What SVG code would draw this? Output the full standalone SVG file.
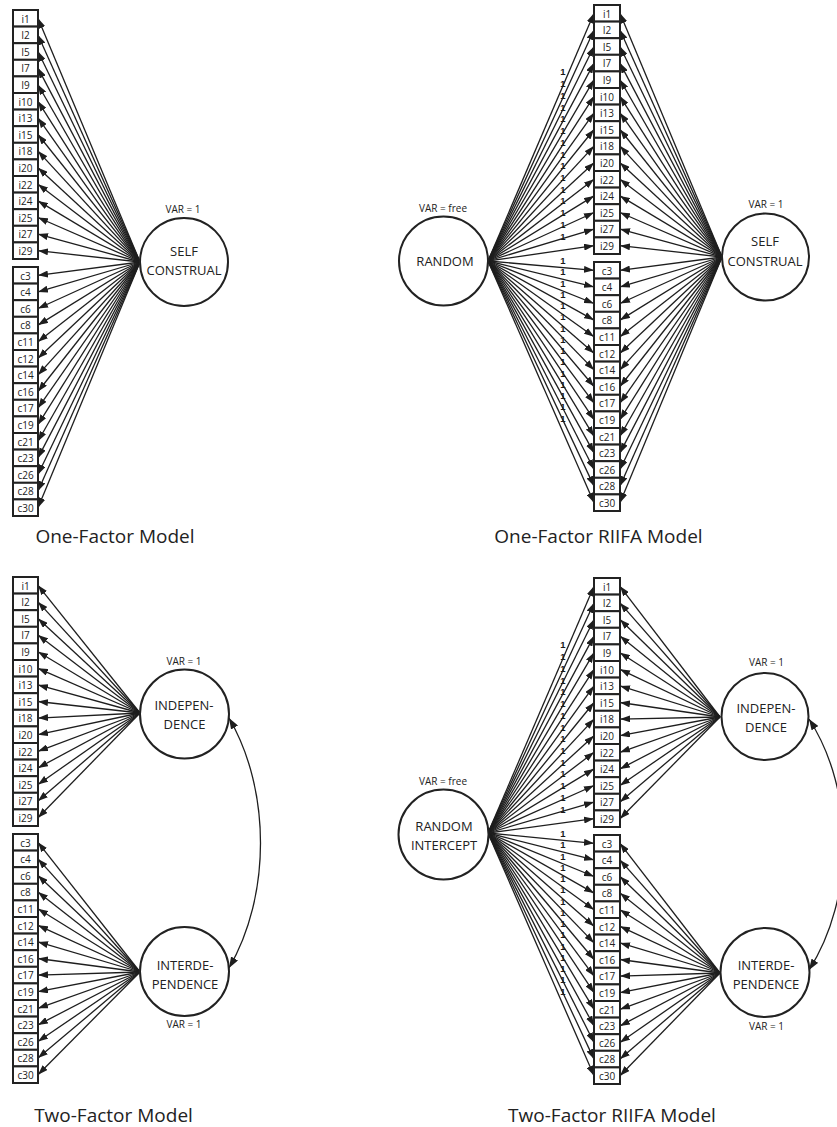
<svg xmlns="http://www.w3.org/2000/svg" width="837" height="1127" viewBox="0 0 837 1127">
<style>
.box{fill:#fff;stroke:#222;stroke-width:2}
.lv{fill:#fff;stroke:#222;stroke-width:2}
text{font-family:"Open Sans","Liberation Sans",sans-serif;fill:#222;text-anchor:middle}
.lab{font-size:10px}
.ft{font-size:13px}
.var{font-size:10px}
.cap{font-size:19px}
.one text{font-family:"Liberation Sans",Arial,sans-serif;font-size:9.5px;font-weight:bold;fill:#1a1a1a}
.ln line{stroke:#1e1e1e;stroke-width:1.3;marker-end:url(#ah)}
.cv{stroke:#1e1e1e;stroke-width:1.3;fill:none;marker-start:url(#ah2);marker-end:url(#ah2)}
</style>
<defs>
<marker id="ah" markerUnits="userSpaceOnUse" markerWidth="10" markerHeight="7" refX="10" refY="3.5" orient="auto"><path d="M0,0 L10,3.5 L0,7z" fill="#1e1e1e"/></marker>
<marker id="ah2" markerUnits="userSpaceOnUse" markerWidth="11" markerHeight="8" refX="11" refY="4" orient="auto-start-reverse"><path d="M0,0 L11,4 L0,8z" fill="#1e1e1e"/></marker>
</defs>

<g id="connectors">
<g id="p1-conn" class="ln" transform="translate(13,10)">
<line x1="127" y1="252" x2="25" y2="8.3"/><line x1="127" y1="252" x2="25" y2="24.9"/><line x1="127" y1="252" x2="25" y2="41.5"/><line x1="127" y1="252" x2="25" y2="58.1"/><line x1="127" y1="252" x2="25" y2="74.7"/><line x1="127" y1="252" x2="25" y2="91.3"/><line x1="127" y1="252" x2="25" y2="107.9"/><line x1="127" y1="252" x2="25" y2="124.5"/><line x1="127" y1="252" x2="25" y2="141.1"/><line x1="127" y1="252" x2="25" y2="157.7"/><line x1="127" y1="252" x2="25" y2="174.3"/><line x1="127" y1="252" x2="25" y2="190.9"/><line x1="127" y1="252" x2="25" y2="207.5"/><line x1="127" y1="252" x2="25" y2="224.1"/><line x1="127" y1="252" x2="25" y2="240.7"/>
<line x1="127" y1="252" x2="25" y2="265.3"/><line x1="127" y1="252" x2="25" y2="281.9"/><line x1="127" y1="252" x2="25" y2="298.5"/><line x1="127" y1="252" x2="25" y2="315.1"/><line x1="127" y1="252" x2="25" y2="331.7"/><line x1="127" y1="252" x2="25" y2="348.3"/><line x1="127" y1="252" x2="25" y2="364.9"/><line x1="127" y1="252" x2="25" y2="381.5"/><line x1="127" y1="252" x2="25" y2="398.1"/><line x1="127" y1="252" x2="25" y2="414.7"/><line x1="127" y1="252" x2="25" y2="431.3"/><line x1="127" y1="252" x2="25" y2="447.9"/><line x1="127" y1="252" x2="25" y2="464.5"/><line x1="127" y1="252" x2="25" y2="481.1"/><line x1="127" y1="252" x2="25" y2="497.7"/>
</g>
<g id="p2-conn" class="ln" transform="translate(594,5)">
<line x1="-106" y1="256" x2="0" y2="8.3"/><line x1="-106" y1="256" x2="0" y2="24.9"/><line x1="-106" y1="256" x2="0" y2="41.5"/><line x1="-106" y1="256" x2="0" y2="58.1"/><line x1="-106" y1="256" x2="0" y2="74.7"/><line x1="-106" y1="256" x2="0" y2="91.3"/><line x1="-106" y1="256" x2="0" y2="107.9"/><line x1="-106" y1="256" x2="0" y2="124.5"/><line x1="-106" y1="256" x2="0" y2="141.1"/><line x1="-106" y1="256" x2="0" y2="157.7"/><line x1="-106" y1="256" x2="0" y2="174.3"/><line x1="-106" y1="256" x2="0" y2="190.9"/><line x1="-106" y1="256" x2="0" y2="207.5"/><line x1="-106" y1="256" x2="0" y2="224.1"/><line x1="-106" y1="256" x2="0" y2="240.7"/>
<line x1="-106" y1="256" x2="0" y2="265.3"/><line x1="-106" y1="256" x2="0" y2="281.9"/><line x1="-106" y1="256" x2="0" y2="298.5"/><line x1="-106" y1="256" x2="0" y2="315.1"/><line x1="-106" y1="256" x2="0" y2="331.7"/><line x1="-106" y1="256" x2="0" y2="348.3"/><line x1="-106" y1="256" x2="0" y2="364.9"/><line x1="-106" y1="256" x2="0" y2="381.5"/><line x1="-106" y1="256" x2="0" y2="398.1"/><line x1="-106" y1="256" x2="0" y2="414.7"/><line x1="-106" y1="256" x2="0" y2="431.3"/><line x1="-106" y1="256" x2="0" y2="447.9"/><line x1="-106" y1="256" x2="0" y2="464.5"/><line x1="-106" y1="256" x2="0" y2="481.1"/><line x1="-106" y1="256" x2="0" y2="497.7"/>
<line x1="128" y1="252" x2="26" y2="8.3"/><line x1="128" y1="252" x2="26" y2="24.9"/><line x1="128" y1="252" x2="26" y2="41.5"/><line x1="128" y1="252" x2="26" y2="58.1"/><line x1="128" y1="252" x2="26" y2="74.7"/><line x1="128" y1="252" x2="26" y2="91.3"/><line x1="128" y1="252" x2="26" y2="107.9"/><line x1="128" y1="252" x2="26" y2="124.5"/><line x1="128" y1="252" x2="26" y2="141.1"/><line x1="128" y1="252" x2="26" y2="157.7"/><line x1="128" y1="252" x2="26" y2="174.3"/><line x1="128" y1="252" x2="26" y2="190.9"/><line x1="128" y1="252" x2="26" y2="207.5"/><line x1="128" y1="252" x2="26" y2="224.1"/><line x1="128" y1="252" x2="26" y2="240.7"/>
<line x1="128" y1="252" x2="26" y2="265.3"/><line x1="128" y1="252" x2="26" y2="281.9"/><line x1="128" y1="252" x2="26" y2="298.5"/><line x1="128" y1="252" x2="26" y2="315.1"/><line x1="128" y1="252" x2="26" y2="331.7"/><line x1="128" y1="252" x2="26" y2="348.3"/><line x1="128" y1="252" x2="26" y2="364.9"/><line x1="128" y1="252" x2="26" y2="381.5"/><line x1="128" y1="252" x2="26" y2="398.1"/><line x1="128" y1="252" x2="26" y2="414.7"/><line x1="128" y1="252" x2="26" y2="431.3"/><line x1="128" y1="252" x2="26" y2="447.9"/><line x1="128" y1="252" x2="26" y2="464.5"/><line x1="128" y1="252" x2="26" y2="481.1"/><line x1="128" y1="252" x2="26" y2="497.7"/>
<g class="one">
<text x="-31" y="70.3">1</text><text x="-31" y="82">1</text><text x="-31" y="93.7">1</text><text x="-31" y="105.5">1</text><text x="-31" y="117.2">1</text><text x="-31" y="129">1</text><text x="-31" y="140.7">1</text><text x="-31" y="152.5">1</text><text x="-31" y="164.2">1</text><text x="-31" y="176">1</text><text x="-31" y="187.7">1</text><text x="-31" y="199.4">1</text><text x="-31" y="211.2">1</text><text x="-31" y="222.9">1</text><text x="-31" y="234.7">1</text>
<text x="-31" y="259.1">1</text><text x="-31" y="270.3">1</text><text x="-31" y="281.6">1</text><text x="-31" y="292.8">1</text><text x="-31" y="304.1">1</text><text x="-31" y="315.3">1</text><text x="-31" y="326.5">1</text><text x="-31" y="337.8">1</text><text x="-31" y="349">1</text><text x="-31" y="360.3">1</text><text x="-31" y="371.5">1</text><text x="-31" y="382.8">1</text><text x="-31" y="394">1</text><text x="-31" y="405.3">1</text><text x="-31" y="416.5">1</text>
</g>
</g>
<g id="p3-conn" class="ln" transform="translate(13,577)">
<line x1="127" y1="136" x2="25" y2="8.3"/><line x1="127" y1="136" x2="25" y2="24.9"/><line x1="127" y1="136" x2="25" y2="41.5"/><line x1="127" y1="136" x2="25" y2="58.1"/><line x1="127" y1="136" x2="25" y2="74.7"/><line x1="127" y1="136" x2="25" y2="91.3"/><line x1="127" y1="136" x2="25" y2="107.9"/><line x1="127" y1="136" x2="25" y2="124.5"/><line x1="127" y1="136" x2="25" y2="141.1"/><line x1="127" y1="136" x2="25" y2="157.7"/><line x1="127" y1="136" x2="25" y2="174.3"/><line x1="127" y1="136" x2="25" y2="190.9"/><line x1="127" y1="136" x2="25" y2="207.5"/><line x1="127" y1="136" x2="25" y2="224.1"/><line x1="127" y1="136" x2="25" y2="240.7"/>
<line x1="127" y1="395" x2="25" y2="265.3"/><line x1="127" y1="395" x2="25" y2="281.9"/><line x1="127" y1="395" x2="25" y2="298.5"/><line x1="127" y1="395" x2="25" y2="315.1"/><line x1="127" y1="395" x2="25" y2="331.7"/><line x1="127" y1="395" x2="25" y2="348.3"/><line x1="127" y1="395" x2="25" y2="364.9"/><line x1="127" y1="395" x2="25" y2="381.5"/><line x1="127" y1="395" x2="25" y2="398.1"/><line x1="127" y1="395" x2="25" y2="414.7"/><line x1="127" y1="395" x2="25" y2="431.3"/><line x1="127" y1="395" x2="25" y2="447.9"/><line x1="127" y1="395" x2="25" y2="464.5"/><line x1="127" y1="395" x2="25" y2="481.1"/><line x1="127" y1="395" x2="25" y2="497.7"/>
</g>
<g id="p4-conn" class="ln" transform="translate(594,578)">
<line x1="-106" y1="255" x2="0" y2="8.3"/><line x1="-106" y1="255" x2="0" y2="24.9"/><line x1="-106" y1="255" x2="0" y2="41.5"/><line x1="-106" y1="255" x2="0" y2="58.1"/><line x1="-106" y1="255" x2="0" y2="74.7"/><line x1="-106" y1="255" x2="0" y2="91.3"/><line x1="-106" y1="255" x2="0" y2="107.9"/><line x1="-106" y1="255" x2="0" y2="124.5"/><line x1="-106" y1="255" x2="0" y2="141.1"/><line x1="-106" y1="255" x2="0" y2="157.7"/><line x1="-106" y1="255" x2="0" y2="174.3"/><line x1="-106" y1="255" x2="0" y2="190.9"/><line x1="-106" y1="255" x2="0" y2="207.5"/><line x1="-106" y1="255" x2="0" y2="224.1"/><line x1="-106" y1="255" x2="0" y2="240.7"/>
<line x1="-106" y1="255" x2="0" y2="265.3"/><line x1="-106" y1="255" x2="0" y2="281.9"/><line x1="-106" y1="255" x2="0" y2="298.5"/><line x1="-106" y1="255" x2="0" y2="315.1"/><line x1="-106" y1="255" x2="0" y2="331.7"/><line x1="-106" y1="255" x2="0" y2="348.3"/><line x1="-106" y1="255" x2="0" y2="364.9"/><line x1="-106" y1="255" x2="0" y2="381.5"/><line x1="-106" y1="255" x2="0" y2="398.1"/><line x1="-106" y1="255" x2="0" y2="414.7"/><line x1="-106" y1="255" x2="0" y2="431.3"/><line x1="-106" y1="255" x2="0" y2="447.9"/><line x1="-106" y1="255" x2="0" y2="464.5"/><line x1="-106" y1="255" x2="0" y2="481.1"/><line x1="-106" y1="255" x2="0" y2="497.7"/>
<line x1="126" y1="139" x2="26" y2="8.3"/><line x1="126" y1="139" x2="26" y2="24.9"/><line x1="126" y1="139" x2="26" y2="41.5"/><line x1="126" y1="139" x2="26" y2="58.1"/><line x1="126" y1="139" x2="26" y2="74.7"/><line x1="126" y1="139" x2="26" y2="91.3"/><line x1="126" y1="139" x2="26" y2="107.9"/><line x1="126" y1="139" x2="26" y2="124.5"/><line x1="126" y1="139" x2="26" y2="141.1"/><line x1="126" y1="139" x2="26" y2="157.7"/><line x1="126" y1="139" x2="26" y2="174.3"/><line x1="126" y1="139" x2="26" y2="190.9"/><line x1="126" y1="139" x2="26" y2="207.5"/><line x1="126" y1="139" x2="26" y2="224.1"/><line x1="126" y1="139" x2="26" y2="240.7"/>
<line x1="126" y1="395" x2="26" y2="265.3"/><line x1="126" y1="395" x2="26" y2="281.9"/><line x1="126" y1="395" x2="26" y2="298.5"/><line x1="126" y1="395" x2="26" y2="315.1"/><line x1="126" y1="395" x2="26" y2="331.7"/><line x1="126" y1="395" x2="26" y2="348.3"/><line x1="126" y1="395" x2="26" y2="364.9"/><line x1="126" y1="395" x2="26" y2="381.5"/><line x1="126" y1="395" x2="26" y2="398.1"/><line x1="126" y1="395" x2="26" y2="414.7"/><line x1="126" y1="395" x2="26" y2="431.3"/><line x1="126" y1="395" x2="26" y2="447.9"/><line x1="126" y1="395" x2="26" y2="464.5"/><line x1="126" y1="395" x2="26" y2="481.1"/><line x1="126" y1="395" x2="26" y2="497.7"/>
<g class="one">
<text x="-31" y="70.3">1</text><text x="-31" y="82">1</text><text x="-31" y="93.7">1</text><text x="-31" y="105.5">1</text><text x="-31" y="117.2">1</text><text x="-31" y="129">1</text><text x="-31" y="140.7">1</text><text x="-31" y="152.5">1</text><text x="-31" y="164.2">1</text><text x="-31" y="176">1</text><text x="-31" y="187.7">1</text><text x="-31" y="199.4">1</text><text x="-31" y="211.2">1</text><text x="-31" y="222.9">1</text><text x="-31" y="234.7">1</text>
<text x="-31" y="259.1">1</text><text x="-31" y="270.3">1</text><text x="-31" y="281.6">1</text><text x="-31" y="292.8">1</text><text x="-31" y="304.1">1</text><text x="-31" y="315.3">1</text><text x="-31" y="326.5">1</text><text x="-31" y="337.8">1</text><text x="-31" y="349">1</text><text x="-31" y="360.3">1</text><text x="-31" y="371.5">1</text><text x="-31" y="382.8">1</text><text x="-31" y="394">1</text><text x="-31" y="405.3">1</text><text x="-31" y="416.5">1</text>
</g>
</g>
<path id="p3-cov" class="cv" d="M229,718 C271,790 271,896 229,968"/>
<path id="p4-cov" class="cv" d="M809,719 C855,790 855,898 809,970"/>
</g>

<g id="p1-items" transform="translate(13,10)">
<g id="p1-i1"><rect class="box" x="0" y="0" width="25" height="16.6"/><text class="lab" x="12.5" y="12.5">i1</text></g>
<g id="p1-i2"><rect class="box" x="0" y="16.6" width="25" height="16.6"/><text class="lab" x="12.5" y="29.1">I2</text></g>
<g id="p1-i5"><rect class="box" x="0" y="33.2" width="25" height="16.6"/><text class="lab" x="12.5" y="45.7">I5</text></g>
<g id="p1-i7"><rect class="box" x="0" y="49.8" width="25" height="16.6"/><text class="lab" x="12.5" y="62.3">I7</text></g>
<g id="p1-i9"><rect class="box" x="0" y="66.4" width="25" height="16.6"/><text class="lab" x="12.5" y="78.9">I9</text></g>
<g id="p1-i10"><rect class="box" x="0" y="83" width="25" height="16.6"/><text class="lab" x="12.5" y="95.5">i10</text></g>
<g id="p1-i13"><rect class="box" x="0" y="99.6" width="25" height="16.6"/><text class="lab" x="12.5" y="112.1">i13</text></g>
<g id="p1-i15"><rect class="box" x="0" y="116.2" width="25" height="16.6"/><text class="lab" x="12.5" y="128.7">i15</text></g>
<g id="p1-i18"><rect class="box" x="0" y="132.8" width="25" height="16.6"/><text class="lab" x="12.5" y="145.3">i18</text></g>
<g id="p1-i20"><rect class="box" x="0" y="149.4" width="25" height="16.6"/><text class="lab" x="12.5" y="161.9">i20</text></g>
<g id="p1-i22"><rect class="box" x="0" y="166" width="25" height="16.6"/><text class="lab" x="12.5" y="178.5">i22</text></g>
<g id="p1-i24"><rect class="box" x="0" y="182.6" width="25" height="16.6"/><text class="lab" x="12.5" y="195.1">i24</text></g>
<g id="p1-i25"><rect class="box" x="0" y="199.2" width="25" height="16.6"/><text class="lab" x="12.5" y="211.7">i25</text></g>
<g id="p1-i27"><rect class="box" x="0" y="215.8" width="25" height="16.6"/><text class="lab" x="12.5" y="228.3">i27</text></g>
<g id="p1-i29"><rect class="box" x="0" y="232.4" width="25" height="16.6"/><text class="lab" x="12.5" y="244.9">i29</text></g>
<g id="p1-c3"><rect class="box" x="0" y="257" width="25" height="16.6"/><text class="lab" x="12.5" y="269.5">c3</text></g>
<g id="p1-c4"><rect class="box" x="0" y="273.6" width="25" height="16.6"/><text class="lab" x="12.5" y="286.1">c4</text></g>
<g id="p1-c6"><rect class="box" x="0" y="290.2" width="25" height="16.6"/><text class="lab" x="12.5" y="302.7">c6</text></g>
<g id="p1-c8"><rect class="box" x="0" y="306.8" width="25" height="16.6"/><text class="lab" x="12.5" y="319.3">c8</text></g>
<g id="p1-c11"><rect class="box" x="0" y="323.4" width="25" height="16.6"/><text class="lab" x="12.5" y="335.9">c11</text></g>
<g id="p1-c12"><rect class="box" x="0" y="340" width="25" height="16.6"/><text class="lab" x="12.5" y="352.5">c12</text></g>
<g id="p1-c14"><rect class="box" x="0" y="356.6" width="25" height="16.6"/><text class="lab" x="12.5" y="369.1">c14</text></g>
<g id="p1-c16"><rect class="box" x="0" y="373.2" width="25" height="16.6"/><text class="lab" x="12.5" y="385.7">c16</text></g>
<g id="p1-c17"><rect class="box" x="0" y="389.8" width="25" height="16.6"/><text class="lab" x="12.5" y="402.3">c17</text></g>
<g id="p1-c19"><rect class="box" x="0" y="406.4" width="25" height="16.6"/><text class="lab" x="12.5" y="418.9">c19</text></g>
<g id="p1-c21"><rect class="box" x="0" y="423" width="25" height="16.6"/><text class="lab" x="12.5" y="435.5">c21</text></g>
<g id="p1-c23"><rect class="box" x="0" y="439.6" width="25" height="16.6"/><text class="lab" x="12.5" y="452.1">c23</text></g>
<g id="p1-c26"><rect class="box" x="0" y="456.2" width="25" height="16.6"/><text class="lab" x="12.5" y="468.7">c26</text></g>
<g id="p1-c28"><rect class="box" x="0" y="472.8" width="25" height="16.6"/><text class="lab" x="12.5" y="485.3">c28</text></g>
<g id="p1-c30"><rect class="box" x="0" y="489.4" width="25" height="16.6"/><text class="lab" x="12.5" y="501.9">c30</text></g>
</g>

<g id="p2-items" transform="translate(594,5)">
<g id="p2-i1"><rect class="box" x="0" y="0" width="26" height="16.6"/><text class="lab" x="13" y="12.5">i1</text></g>
<g id="p2-i2"><rect class="box" x="0" y="16.6" width="26" height="16.6"/><text class="lab" x="13" y="29.1">I2</text></g>
<g id="p2-i5"><rect class="box" x="0" y="33.2" width="26" height="16.6"/><text class="lab" x="13" y="45.7">I5</text></g>
<g id="p2-i7"><rect class="box" x="0" y="49.8" width="26" height="16.6"/><text class="lab" x="13" y="62.3">I7</text></g>
<g id="p2-i9"><rect class="box" x="0" y="66.4" width="26" height="16.6"/><text class="lab" x="13" y="78.9">I9</text></g>
<g id="p2-i10"><rect class="box" x="0" y="83" width="26" height="16.6"/><text class="lab" x="13" y="95.5">i10</text></g>
<g id="p2-i13"><rect class="box" x="0" y="99.6" width="26" height="16.6"/><text class="lab" x="13" y="112.1">i13</text></g>
<g id="p2-i15"><rect class="box" x="0" y="116.2" width="26" height="16.6"/><text class="lab" x="13" y="128.7">i15</text></g>
<g id="p2-i18"><rect class="box" x="0" y="132.8" width="26" height="16.6"/><text class="lab" x="13" y="145.3">i18</text></g>
<g id="p2-i20"><rect class="box" x="0" y="149.4" width="26" height="16.6"/><text class="lab" x="13" y="161.9">i20</text></g>
<g id="p2-i22"><rect class="box" x="0" y="166" width="26" height="16.6"/><text class="lab" x="13" y="178.5">i22</text></g>
<g id="p2-i24"><rect class="box" x="0" y="182.6" width="26" height="16.6"/><text class="lab" x="13" y="195.1">i24</text></g>
<g id="p2-i25"><rect class="box" x="0" y="199.2" width="26" height="16.6"/><text class="lab" x="13" y="211.7">i25</text></g>
<g id="p2-i27"><rect class="box" x="0" y="215.8" width="26" height="16.6"/><text class="lab" x="13" y="228.3">i27</text></g>
<g id="p2-i29"><rect class="box" x="0" y="232.4" width="26" height="16.6"/><text class="lab" x="13" y="244.9">i29</text></g>
<g id="p2-c3"><rect class="box" x="0" y="257" width="26" height="16.6"/><text class="lab" x="13" y="269.5">c3</text></g>
<g id="p2-c4"><rect class="box" x="0" y="273.6" width="26" height="16.6"/><text class="lab" x="13" y="286.1">c4</text></g>
<g id="p2-c6"><rect class="box" x="0" y="290.2" width="26" height="16.6"/><text class="lab" x="13" y="302.7">c6</text></g>
<g id="p2-c8"><rect class="box" x="0" y="306.8" width="26" height="16.6"/><text class="lab" x="13" y="319.3">c8</text></g>
<g id="p2-c11"><rect class="box" x="0" y="323.4" width="26" height="16.6"/><text class="lab" x="13" y="335.9">c11</text></g>
<g id="p2-c12"><rect class="box" x="0" y="340" width="26" height="16.6"/><text class="lab" x="13" y="352.5">c12</text></g>
<g id="p2-c14"><rect class="box" x="0" y="356.6" width="26" height="16.6"/><text class="lab" x="13" y="369.1">c14</text></g>
<g id="p2-c16"><rect class="box" x="0" y="373.2" width="26" height="16.6"/><text class="lab" x="13" y="385.7">c16</text></g>
<g id="p2-c17"><rect class="box" x="0" y="389.8" width="26" height="16.6"/><text class="lab" x="13" y="402.3">c17</text></g>
<g id="p2-c19"><rect class="box" x="0" y="406.4" width="26" height="16.6"/><text class="lab" x="13" y="418.9">c19</text></g>
<g id="p2-c21"><rect class="box" x="0" y="423" width="26" height="16.6"/><text class="lab" x="13" y="435.5">c21</text></g>
<g id="p2-c23"><rect class="box" x="0" y="439.6" width="26" height="16.6"/><text class="lab" x="13" y="452.1">c23</text></g>
<g id="p2-c26"><rect class="box" x="0" y="456.2" width="26" height="16.6"/><text class="lab" x="13" y="468.7">c26</text></g>
<g id="p2-c28"><rect class="box" x="0" y="472.8" width="26" height="16.6"/><text class="lab" x="13" y="485.3">c28</text></g>
<g id="p2-c30"><rect class="box" x="0" y="489.4" width="26" height="16.6"/><text class="lab" x="13" y="501.9">c30</text></g>
</g>

<g id="p3-items" transform="translate(13,577)">
<g id="p3-i1"><rect class="box" x="0" y="0" width="25" height="16.6"/><text class="lab" x="12.5" y="12.5">i1</text></g>
<g id="p3-i2"><rect class="box" x="0" y="16.6" width="25" height="16.6"/><text class="lab" x="12.5" y="29.1">I2</text></g>
<g id="p3-i5"><rect class="box" x="0" y="33.2" width="25" height="16.6"/><text class="lab" x="12.5" y="45.7">I5</text></g>
<g id="p3-i7"><rect class="box" x="0" y="49.8" width="25" height="16.6"/><text class="lab" x="12.5" y="62.3">I7</text></g>
<g id="p3-i9"><rect class="box" x="0" y="66.4" width="25" height="16.6"/><text class="lab" x="12.5" y="78.9">I9</text></g>
<g id="p3-i10"><rect class="box" x="0" y="83" width="25" height="16.6"/><text class="lab" x="12.5" y="95.5">i10</text></g>
<g id="p3-i13"><rect class="box" x="0" y="99.6" width="25" height="16.6"/><text class="lab" x="12.5" y="112.1">i13</text></g>
<g id="p3-i15"><rect class="box" x="0" y="116.2" width="25" height="16.6"/><text class="lab" x="12.5" y="128.7">i15</text></g>
<g id="p3-i18"><rect class="box" x="0" y="132.8" width="25" height="16.6"/><text class="lab" x="12.5" y="145.3">i18</text></g>
<g id="p3-i20"><rect class="box" x="0" y="149.4" width="25" height="16.6"/><text class="lab" x="12.5" y="161.9">i20</text></g>
<g id="p3-i22"><rect class="box" x="0" y="166" width="25" height="16.6"/><text class="lab" x="12.5" y="178.5">i22</text></g>
<g id="p3-i24"><rect class="box" x="0" y="182.6" width="25" height="16.6"/><text class="lab" x="12.5" y="195.1">i24</text></g>
<g id="p3-i25"><rect class="box" x="0" y="199.2" width="25" height="16.6"/><text class="lab" x="12.5" y="211.7">i25</text></g>
<g id="p3-i27"><rect class="box" x="0" y="215.8" width="25" height="16.6"/><text class="lab" x="12.5" y="228.3">i27</text></g>
<g id="p3-i29"><rect class="box" x="0" y="232.4" width="25" height="16.6"/><text class="lab" x="12.5" y="244.9">i29</text></g>
<g id="p3-c3"><rect class="box" x="0" y="257" width="25" height="16.6"/><text class="lab" x="12.5" y="269.5">c3</text></g>
<g id="p3-c4"><rect class="box" x="0" y="273.6" width="25" height="16.6"/><text class="lab" x="12.5" y="286.1">c4</text></g>
<g id="p3-c6"><rect class="box" x="0" y="290.2" width="25" height="16.6"/><text class="lab" x="12.5" y="302.7">c6</text></g>
<g id="p3-c8"><rect class="box" x="0" y="306.8" width="25" height="16.6"/><text class="lab" x="12.5" y="319.3">c8</text></g>
<g id="p3-c11"><rect class="box" x="0" y="323.4" width="25" height="16.6"/><text class="lab" x="12.5" y="335.9">c11</text></g>
<g id="p3-c12"><rect class="box" x="0" y="340" width="25" height="16.6"/><text class="lab" x="12.5" y="352.5">c12</text></g>
<g id="p3-c14"><rect class="box" x="0" y="356.6" width="25" height="16.6"/><text class="lab" x="12.5" y="369.1">c14</text></g>
<g id="p3-c16"><rect class="box" x="0" y="373.2" width="25" height="16.6"/><text class="lab" x="12.5" y="385.7">c16</text></g>
<g id="p3-c17"><rect class="box" x="0" y="389.8" width="25" height="16.6"/><text class="lab" x="12.5" y="402.3">c17</text></g>
<g id="p3-c19"><rect class="box" x="0" y="406.4" width="25" height="16.6"/><text class="lab" x="12.5" y="418.9">c19</text></g>
<g id="p3-c21"><rect class="box" x="0" y="423" width="25" height="16.6"/><text class="lab" x="12.5" y="435.5">c21</text></g>
<g id="p3-c23"><rect class="box" x="0" y="439.6" width="25" height="16.6"/><text class="lab" x="12.5" y="452.1">c23</text></g>
<g id="p3-c26"><rect class="box" x="0" y="456.2" width="25" height="16.6"/><text class="lab" x="12.5" y="468.7">c26</text></g>
<g id="p3-c28"><rect class="box" x="0" y="472.8" width="25" height="16.6"/><text class="lab" x="12.5" y="485.3">c28</text></g>
<g id="p3-c30"><rect class="box" x="0" y="489.4" width="25" height="16.6"/><text class="lab" x="12.5" y="501.9">c30</text></g>
</g>

<g id="p4-items" transform="translate(594,578)">
<g id="p4-i1"><rect class="box" x="0" y="0" width="26" height="16.6"/><text class="lab" x="13" y="12.5">i1</text></g>
<g id="p4-i2"><rect class="box" x="0" y="16.6" width="26" height="16.6"/><text class="lab" x="13" y="29.1">I2</text></g>
<g id="p4-i5"><rect class="box" x="0" y="33.2" width="26" height="16.6"/><text class="lab" x="13" y="45.7">I5</text></g>
<g id="p4-i7"><rect class="box" x="0" y="49.8" width="26" height="16.6"/><text class="lab" x="13" y="62.3">I7</text></g>
<g id="p4-i9"><rect class="box" x="0" y="66.4" width="26" height="16.6"/><text class="lab" x="13" y="78.9">I9</text></g>
<g id="p4-i10"><rect class="box" x="0" y="83" width="26" height="16.6"/><text class="lab" x="13" y="95.5">i10</text></g>
<g id="p4-i13"><rect class="box" x="0" y="99.6" width="26" height="16.6"/><text class="lab" x="13" y="112.1">i13</text></g>
<g id="p4-i15"><rect class="box" x="0" y="116.2" width="26" height="16.6"/><text class="lab" x="13" y="128.7">i15</text></g>
<g id="p4-i18"><rect class="box" x="0" y="132.8" width="26" height="16.6"/><text class="lab" x="13" y="145.3">i18</text></g>
<g id="p4-i20"><rect class="box" x="0" y="149.4" width="26" height="16.6"/><text class="lab" x="13" y="161.9">i20</text></g>
<g id="p4-i22"><rect class="box" x="0" y="166" width="26" height="16.6"/><text class="lab" x="13" y="178.5">i22</text></g>
<g id="p4-i24"><rect class="box" x="0" y="182.6" width="26" height="16.6"/><text class="lab" x="13" y="195.1">i24</text></g>
<g id="p4-i25"><rect class="box" x="0" y="199.2" width="26" height="16.6"/><text class="lab" x="13" y="211.7">i25</text></g>
<g id="p4-i27"><rect class="box" x="0" y="215.8" width="26" height="16.6"/><text class="lab" x="13" y="228.3">i27</text></g>
<g id="p4-i29"><rect class="box" x="0" y="232.4" width="26" height="16.6"/><text class="lab" x="13" y="244.9">i29</text></g>
<g id="p4-c3"><rect class="box" x="0" y="257" width="26" height="16.6"/><text class="lab" x="13" y="269.5">c3</text></g>
<g id="p4-c4"><rect class="box" x="0" y="273.6" width="26" height="16.6"/><text class="lab" x="13" y="286.1">c4</text></g>
<g id="p4-c6"><rect class="box" x="0" y="290.2" width="26" height="16.6"/><text class="lab" x="13" y="302.7">c6</text></g>
<g id="p4-c8"><rect class="box" x="0" y="306.8" width="26" height="16.6"/><text class="lab" x="13" y="319.3">c8</text></g>
<g id="p4-c11"><rect class="box" x="0" y="323.4" width="26" height="16.6"/><text class="lab" x="13" y="335.9">c11</text></g>
<g id="p4-c12"><rect class="box" x="0" y="340" width="26" height="16.6"/><text class="lab" x="13" y="352.5">c12</text></g>
<g id="p4-c14"><rect class="box" x="0" y="356.6" width="26" height="16.6"/><text class="lab" x="13" y="369.1">c14</text></g>
<g id="p4-c16"><rect class="box" x="0" y="373.2" width="26" height="16.6"/><text class="lab" x="13" y="385.7">c16</text></g>
<g id="p4-c17"><rect class="box" x="0" y="389.8" width="26" height="16.6"/><text class="lab" x="13" y="402.3">c17</text></g>
<g id="p4-c19"><rect class="box" x="0" y="406.4" width="26" height="16.6"/><text class="lab" x="13" y="418.9">c19</text></g>
<g id="p4-c21"><rect class="box" x="0" y="423" width="26" height="16.6"/><text class="lab" x="13" y="435.5">c21</text></g>
<g id="p4-c23"><rect class="box" x="0" y="439.6" width="26" height="16.6"/><text class="lab" x="13" y="452.1">c23</text></g>
<g id="p4-c26"><rect class="box" x="0" y="456.2" width="26" height="16.6"/><text class="lab" x="13" y="468.7">c26</text></g>
<g id="p4-c28"><rect class="box" x="0" y="472.8" width="26" height="16.6"/><text class="lab" x="13" y="485.3">c28</text></g>
<g id="p4-c30"><rect class="box" x="0" y="489.4" width="26" height="16.6"/><text class="lab" x="13" y="501.9">c30</text></g>
</g>

<g id="p1-self">
<text class="var" x="183" y="212.5">VAR = 1</text>
<circle class="lv" cx="184" cy="262" r="44"/>
<text class="ft" x="184" y="256">SELF</text>
<text class="ft" x="184" y="275">CONSTRUAL</text>
</g>
<g id="p2-random">
<text class="var" x="443" y="211.5">VAR = free</text>
<circle class="lv" cx="443.5" cy="261" r="44.5"/>
<text class="ft" x="445" y="266">RANDOM</text>
</g>
<g id="p2-self">
<text class="var" x="766" y="208">VAR = 1</text>
<circle class="lv" cx="765.5" cy="257" r="43.5"/>
<text class="ft" x="765" y="246">SELF</text>
<text class="ft" x="765" y="266">CONSTRUAL</text>
</g>
<g id="p3-indep">
<text class="var" x="184" y="665">VAR = 1</text>
<circle class="lv" cx="184.5" cy="714" r="44.5"/>
<text class="ft" x="184" y="709.5">INDEPEN-</text>
<text class="ft" x="184.5" y="729">DENCE</text>
</g>
<g id="p3-interdep">
<circle class="lv" cx="184.5" cy="971.5" r="44.5"/>
<text class="ft" x="185" y="969.5">INTERDE-</text>
<text class="ft" x="185" y="989">PENDENCE</text>
<text class="var" x="184" y="1028">VAR = 1</text>
</g>
<g id="p4-random">
<text class="var" x="443" y="784.5">VAR = free</text>
<circle class="lv" cx="443.5" cy="834.5" r="45"/>
<text class="ft" x="444" y="831">RANDOM</text>
<text class="ft" x="444" y="849.5">INTERCEPT</text>
</g>
<g id="p4-indep">
<text class="var" x="766.5" y="665.5">VAR = 1</text>
<circle class="lv" cx="765" cy="716.5" r="43.5"/>
<text class="ft" x="766" y="713">INDEPEN-</text>
<text class="ft" x="766" y="732">DENCE</text>
</g>
<g id="p4-interdep">
<circle class="lv" cx="765" cy="972.5" r="44.5"/>
<text class="ft" x="766" y="970">INTERDE-</text>
<text class="ft" x="766" y="989">PENDENCE</text>
<text class="var" x="766.5" y="1030">VAR = 1</text>
</g>

<g id="captions">
<text class="cap" x="115" y="543">One-Factor Model</text>
<text class="cap" x="598.5" y="543">One-Factor RIIFA Model</text>
<text class="cap" x="113.5" y="1121.5">Two-Factor Model</text>
<text class="cap" x="612" y="1121.5">Two-Factor RIIFA Model</text>
</g>
</svg>
